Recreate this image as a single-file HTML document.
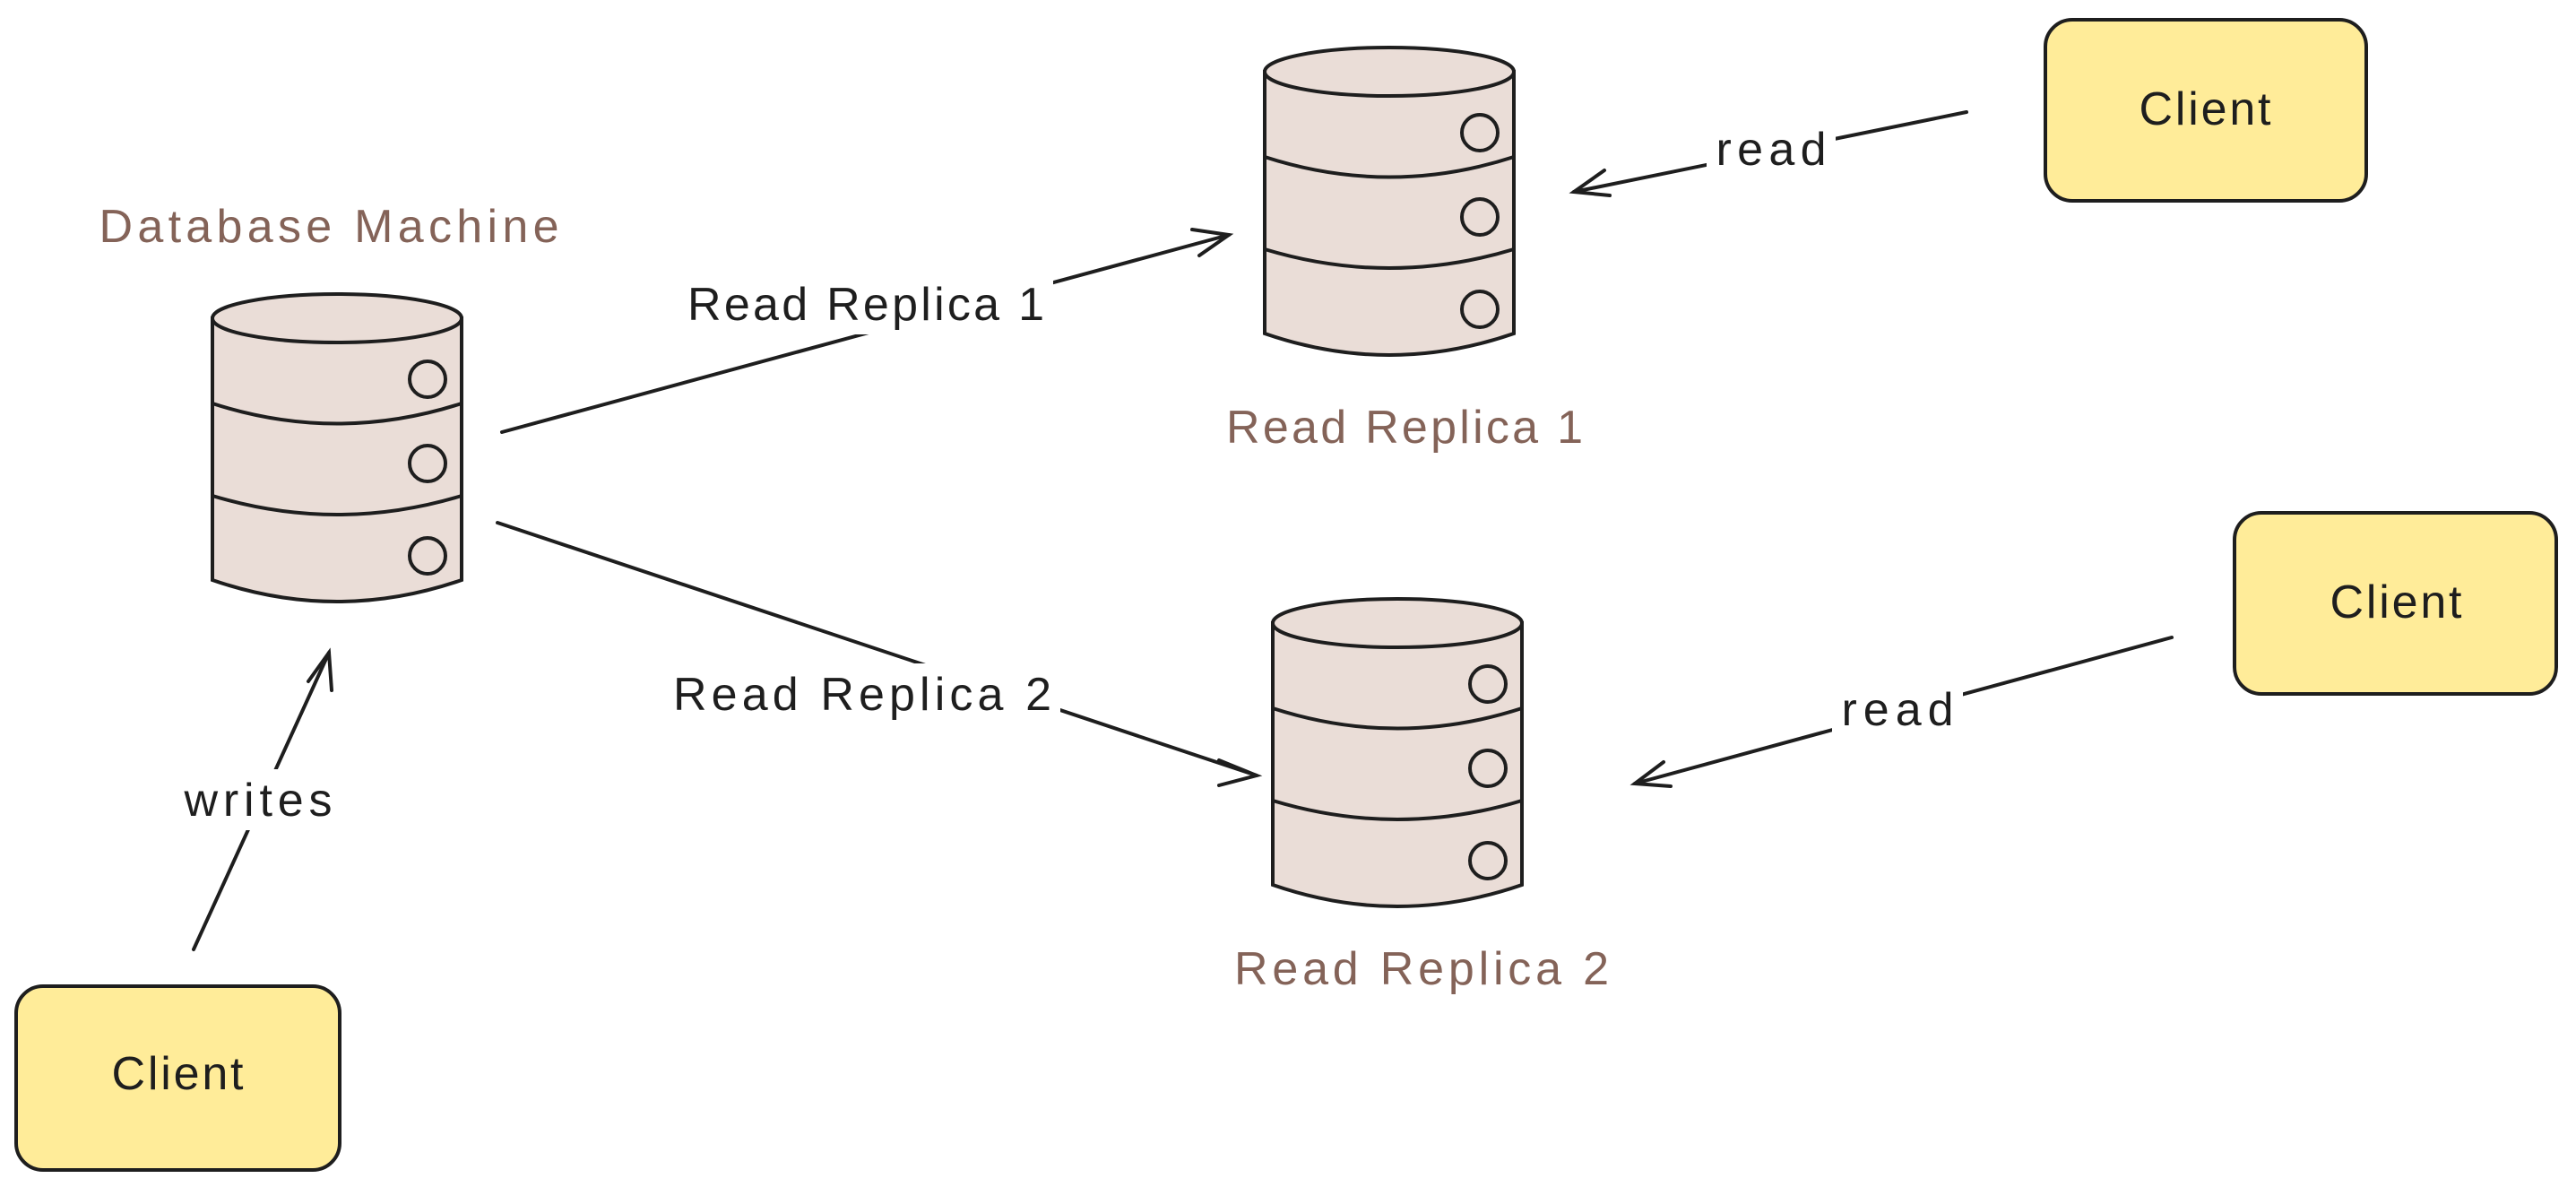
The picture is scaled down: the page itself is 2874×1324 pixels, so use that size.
<!DOCTYPE html>
<html><head><meta charset="utf-8"><style>
html,body{margin:0;padding:0;background:#fff;}
svg{display:block}
text{font-family:"Liberation Sans",sans-serif;}
</style></head><body>
<svg width="2874" height="1324" viewBox="0 0 2874 1324" xmlns="http://www.w3.org/2000/svg">
<defs>
<g id="cyl">
  <path d="M0,30 L0,322 Q139,370 278,322 L278,30 Z" fill="#eaddd7" stroke="#1e1e1e" stroke-width="4"/>
  <ellipse cx="139" cy="30" rx="139" ry="27" fill="#eaddd7" stroke="#1e1e1e" stroke-width="4"/>
  <path d="M0,125 Q139,170 278,125" fill="none" stroke="#1e1e1e" stroke-width="4"/>
  <path d="M0,228 Q139,270 278,228" fill="none" stroke="#1e1e1e" stroke-width="4"/>
  <circle cx="240" cy="98" r="20" fill="none" stroke="#1e1e1e" stroke-width="4"/>
  <circle cx="240" cy="192" r="20" fill="none" stroke="#1e1e1e" stroke-width="4"/>
  <circle cx="240" cy="295" r="20" fill="none" stroke="#1e1e1e" stroke-width="4"/>
</g>
</defs>
<use href="#cyl" x="237" y="325"/>
<use href="#cyl" x="1411" y="50"/>
<use href="#cyl" x="1420" y="665"/>

<g fill="#ffec99" stroke="#1e1e1e" stroke-width="4">
<rect x="2282" y="22" width="358" height="202" rx="30"/>
<rect x="2493" y="572" width="359" height="202" rx="30"/>
<rect x="18" y="1100" width="361" height="205" rx="30"/>
</g>
<g font-size="52" fill="#1e1e1e" text-anchor="middle" lengthAdjust="spacing">
<text x="2460" y="139" textLength="147">Client</text>
<text x="2673" y="689" textLength="147">Client</text>
<text x="198" y="1215" textLength="147">Client</text>
</g>

<g stroke="#1e1e1e" stroke-width="4" fill="none" stroke-linecap="round">
<path d="M560,482 L1371,262"/><path d="M1330,256 L1371,262 L1338,285"/>
<path d="M555,583 L1402,865"/><path d="M1360,848 L1402,865 L1360,876"/>
<path d="M2194,125 L1756,214"/><path d="M1790,190 L1756,214 L1796,218"/>
<path d="M2423,711 L1824,874"/><path d="M1856,850 L1824,874 L1864,877"/>
<path d="M216,1059 L367,728"/><path d="M344,760 L367,728 L370,770"/>
</g>
<g fill="#fff">
<rect x="757" y="305" width="418" height="68"/>
<rect x="741" y="740" width="442" height="68"/>
<rect x="1904" y="132" width="144" height="68"/>
<rect x="2044" y="757" width="146" height="68"/>
<rect x="196" y="858" width="184" height="68"/>
</g>
<g font-size="52" fill="#1e1e1e" text-anchor="middle">
<text x="966" y="357" textLength="398" lengthAdjust="spacing">Read Replica 1</text>
<text x="962" y="792" textLength="422" lengthAdjust="spacing">Read Replica 2</text>
<text x="1976" y="184" textLength="123" lengthAdjust="spacing">read</text>
<text x="2117" y="809" textLength="125" lengthAdjust="spacing">read</text>
<text x="288" y="910" textLength="165" lengthAdjust="spacing">writes</text>
</g>
<g font-size="52" fill="#846358" text-anchor="middle">
<text x="367" y="270" textLength="513" lengthAdjust="spacing">Database Machine</text>
<text x="1567" y="494" textLength="398" lengthAdjust="spacing">Read Replica 1</text>
<text x="1586" y="1098" textLength="418" lengthAdjust="spacing">Read Replica 2</text>
</g>
</svg>
</body></html>
